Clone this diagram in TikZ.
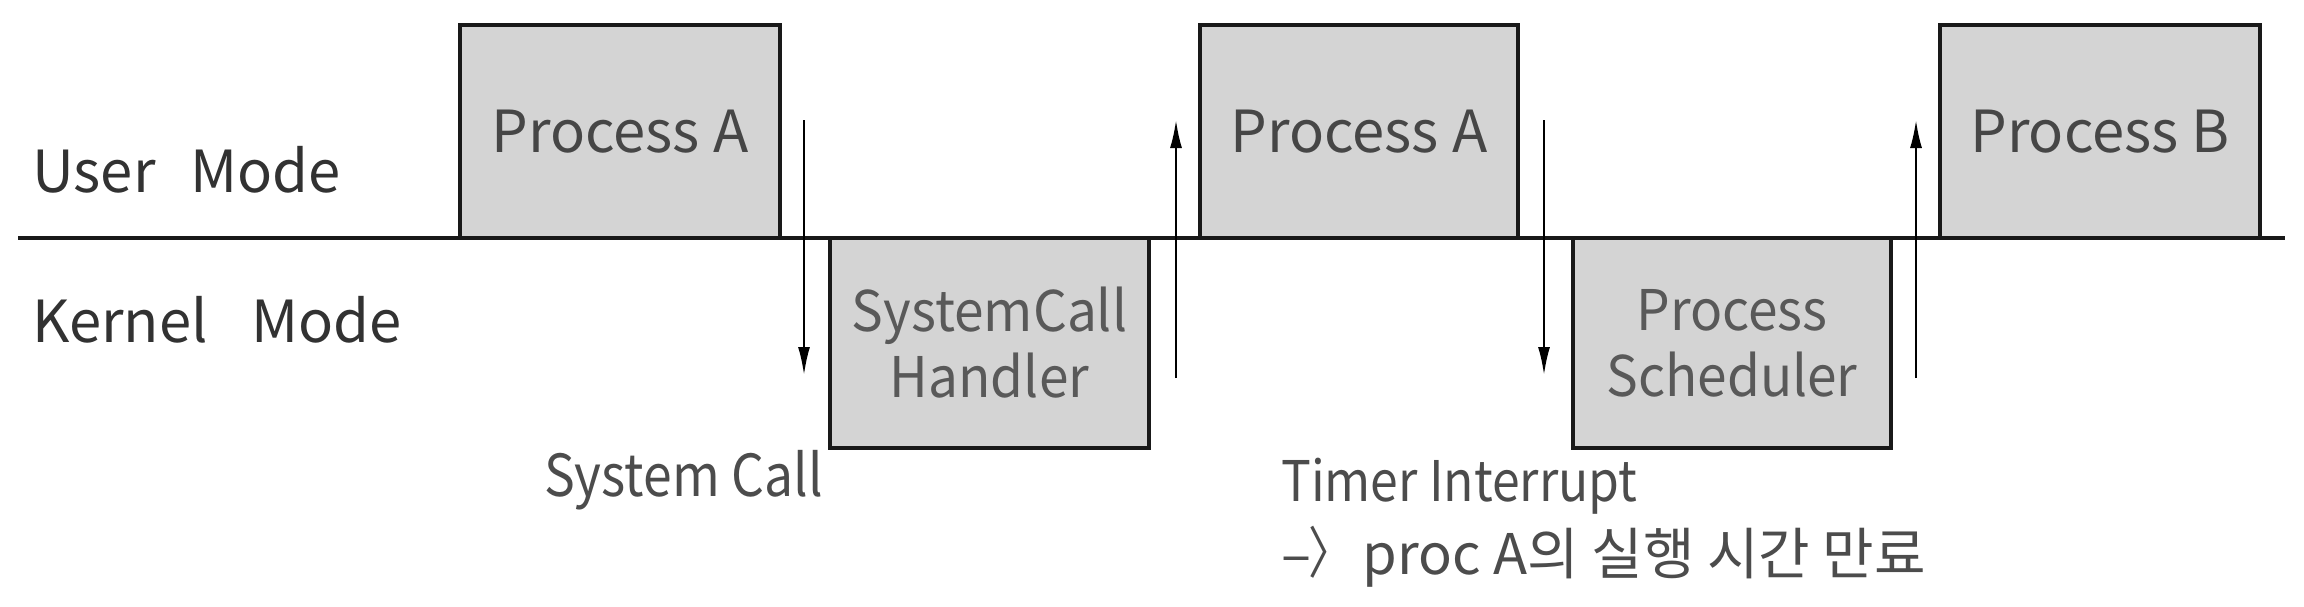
\documentclass[tikz,border=0pt]{standalone}
\usepackage{fontspec}
\setmainfont{Noto Sans CJK KR}
\newfontfamily\narrowfont[FakeStretch=0.89]{Noto Sans CJK KR}
\newfontfamily\semifont[FakeStretch=0.95]{Noto Sans CJK KR}
\usetikzlibrary{arrows.meta}
\definecolor{boxgray}{RGB}{212,212,212}
\definecolor{txtdark}{RGB}{50,50,50}
\definecolor{txtbox}{RGB}{70,70,70}
\begin{document}
\begin{tikzpicture}[x=1pt,y=-1pt,
  bigfont/.style={font=\fontsize{58}{68}\selectfont},
  proc/.style={draw=black!90, line width=4pt, fill=boxgray, inner sep=0pt,
    text=txtbox, align=center, bigfont},
  kproc/.style={proc, text=black!65, font=\semifont\fontsize{56}{66}\selectfont},
  lbl/.style={text=txtdark, inner sep=0pt, bigfont},
  flow/.style={line width=2.2pt, -{Latex[length=28pt,width=12pt]}},
  axis/.style={line width=4.5pt, black!90}]
\useasboundingbox (0,0) rectangle (2304,606);
% boxes
\node[proc, minimum width=320pt, minimum height=213pt] (pa1) at (620,131.5) {Process A};
\node[kproc, minimum width=319pt, minimum height=210pt] (sch) at (989.5,343) {SystemCall\\Handler};
\node[proc, minimum width=318pt, minimum height=213pt] (pa2) at (1359,131.5) {Process A};
\node[kproc, minimum width=318pt, minimum height=210pt] (ps) at (1732,343) {Process\\Scheduler};
\node[proc, minimum width=320pt, minimum height=213pt] (pb) at (2100,131.5) {Process B};
% mode axis
\coordinate (axl) at (18,238);
\coordinate (axr) at (2285,238);
\draw[axis] (axl) -- (axr);
% labels
\node[lbl, anchor=west] (um) at (32,170) {User\hspace{0.6em}Mode};
\node[lbl, anchor=west] (km) at (32,320) {Kernel\hspace{0.75em}Mode};
\node[lbl, anchor=east, text=black!70, font=\narrowfont\fontsize{58}{68}\selectfont] (sc) at (823,480) {System Call};
\node[lbl, anchor=north west, align=left, text=black!70, font=\fontsize{56}{73}\selectfont] (ti) at (1281,458) {{\narrowfont Timer Interrupt}\\\textendash{}\kern-0.05em\raisebox{0.02em}{\scalebox{0.8}[1]{〉}}\,proc A의 실행 시간 만료};
% arrows
\coordinate (d1s) at (804,120); \coordinate (d1e) at (804,375);
\coordinate (u1s) at (1176,378); \coordinate (u1e) at (1176,120);
\coordinate (d2s) at (1544,120); \coordinate (d2e) at (1544,375);
\coordinate (u2s) at (1916,378); \coordinate (u2e) at (1916,120);
\draw[flow] (d1s) -- (d1e);
\draw[flow] (u1s) -- (u1e);
\draw[flow] (d2s) -- (d2e);
\draw[flow] (u2s) -- (u2e);
\end{tikzpicture}
\end{document}
